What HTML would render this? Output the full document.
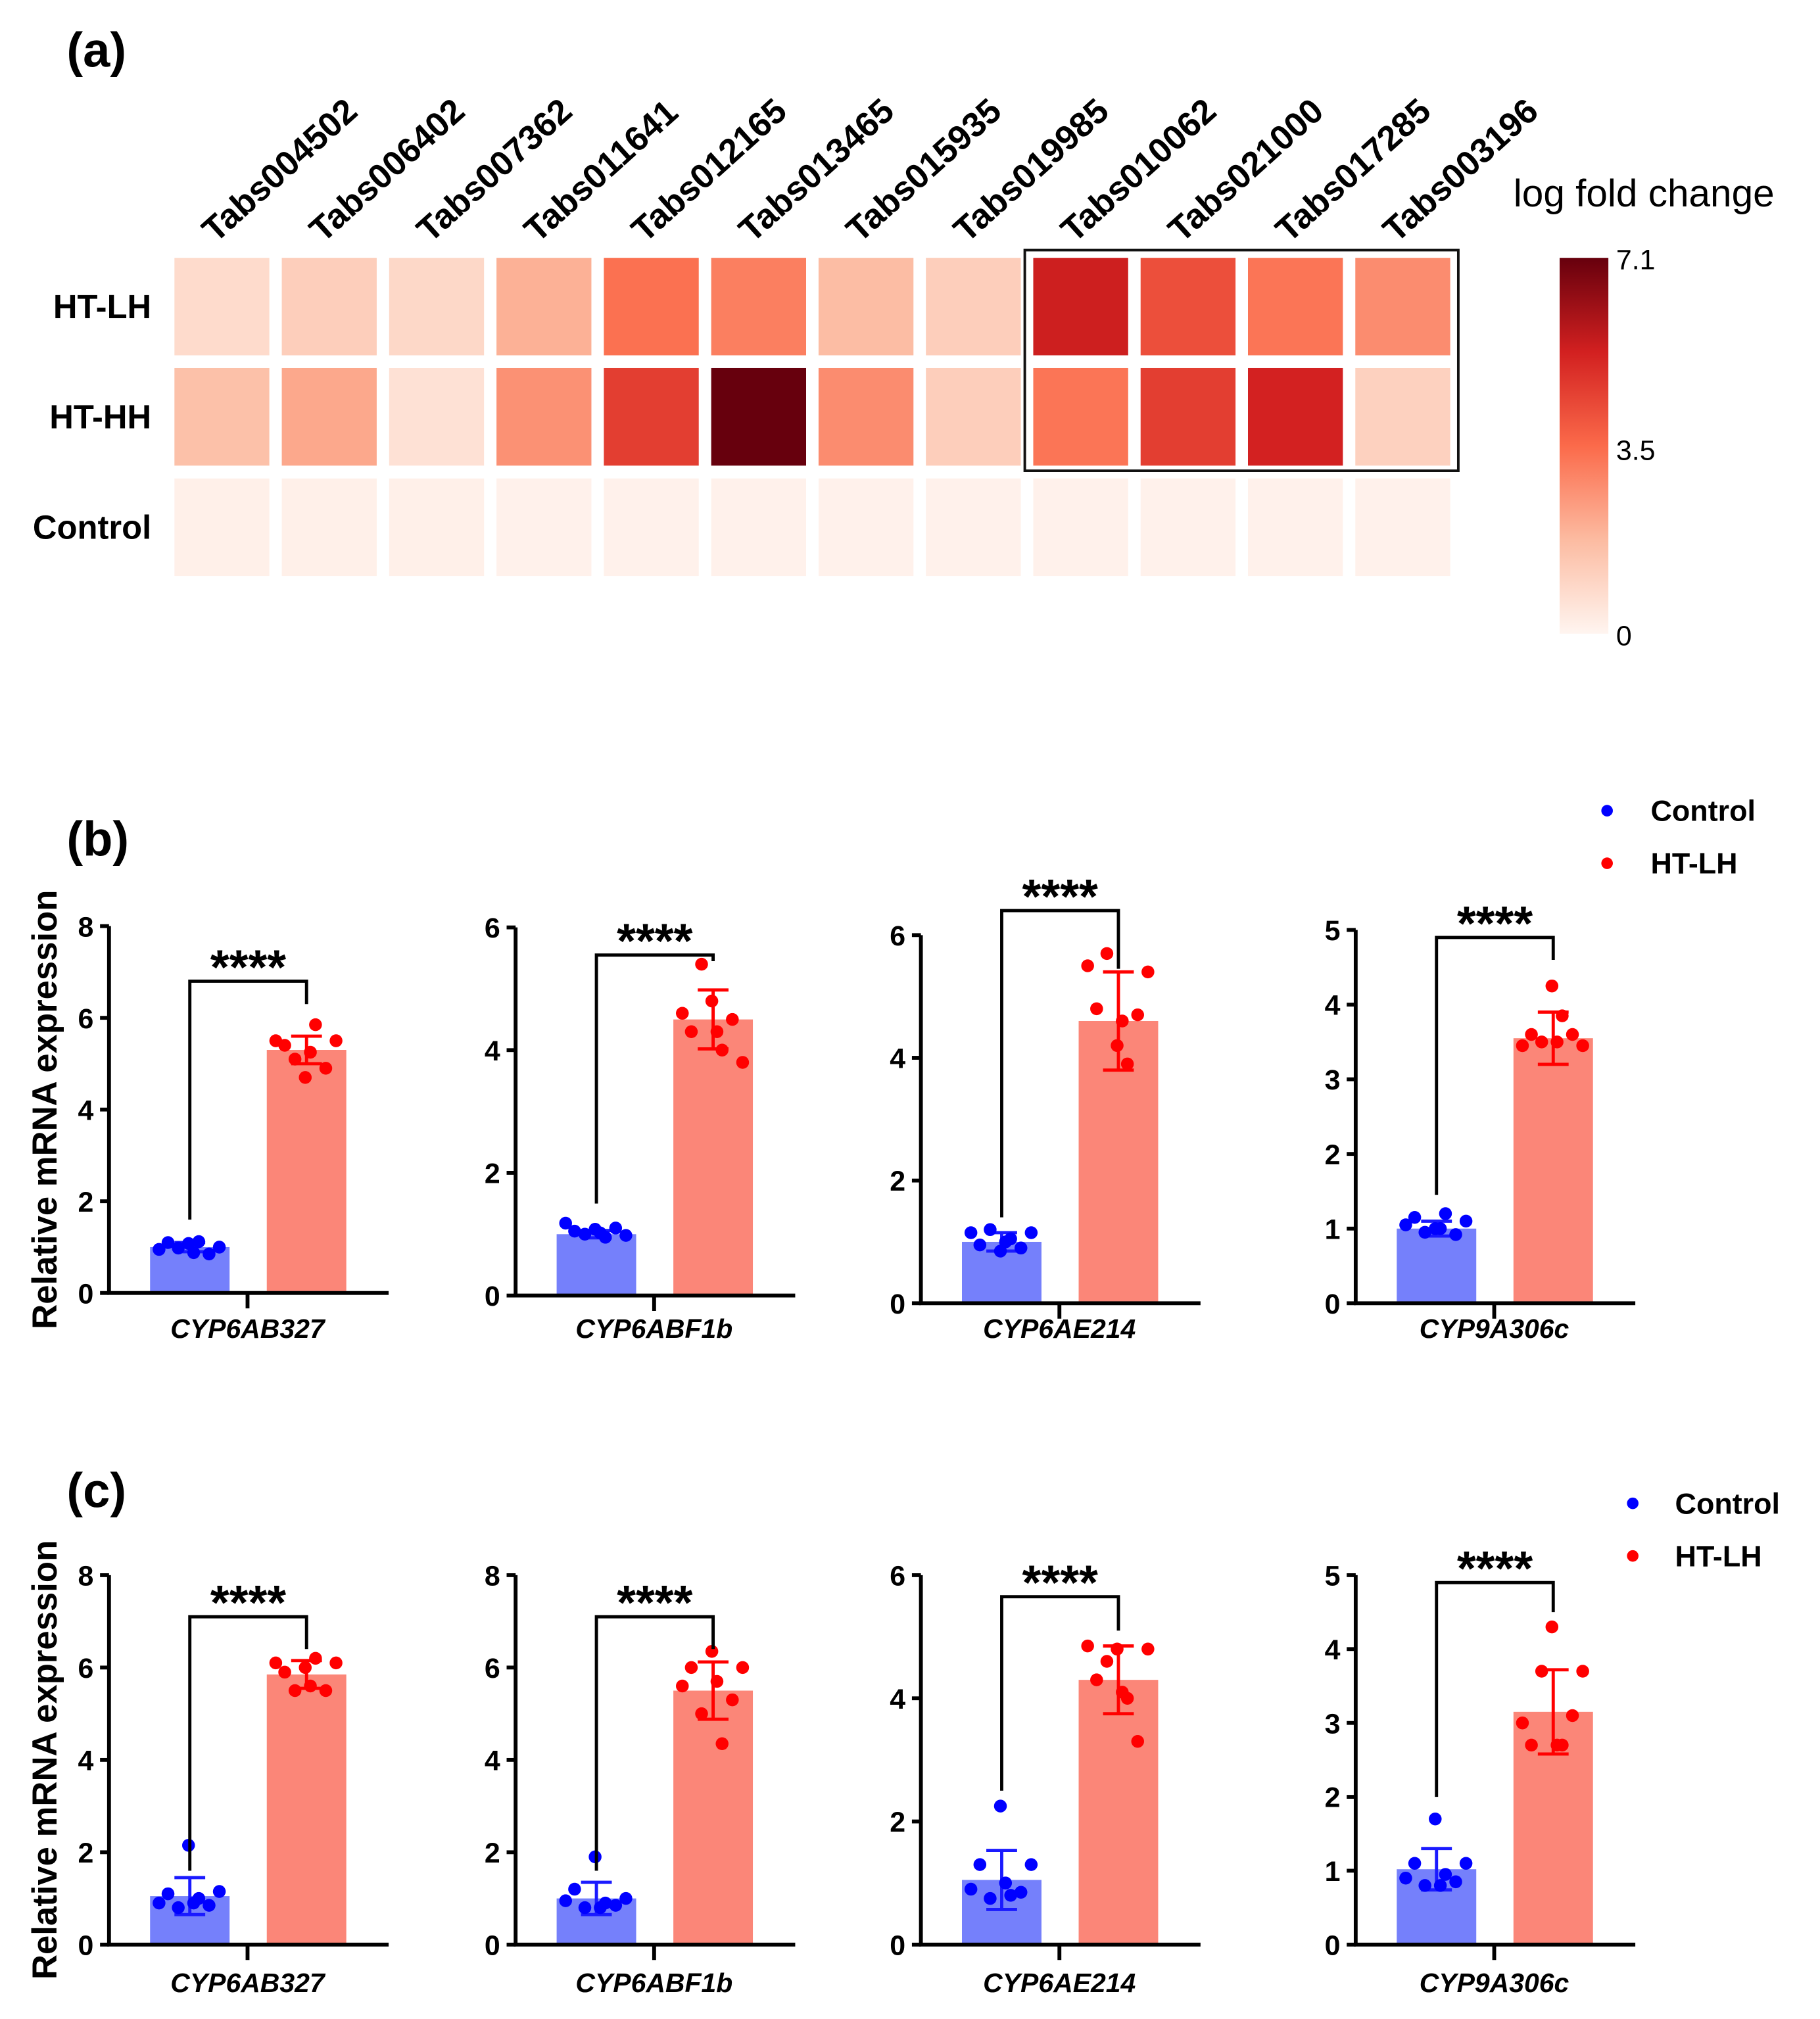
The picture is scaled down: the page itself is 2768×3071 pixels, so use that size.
<!DOCTYPE html>
<html><head><meta charset="utf-8"><style>
html,body{margin:0;padding:0;background:#fff}
svg{display:block}
text{font-family:"Liberation Sans",Arial,sans-serif}
</style></head><body>
<svg id="fig" width="2768" height="3071" viewBox="0 0 1419 1574" preserveAspectRatio="none">
<text x="52" y="52" font-size="38" font-weight="bold">(a)</text>
<text x="52" y="667" font-size="38" font-weight="bold">(b)</text>
<text x="52" y="1175" font-size="38" font-weight="bold">(c)</text>
<g id="heat"></g>
<g id="bars"></g>
</svg>
<script>
const genes=["Tabs004502","Tabs006402","Tabs007362","Tabs011641","Tabs012165","Tabs013465","Tabs015935","Tabs019985","Tabs010062","Tabs021000","Tabs017285","Tabs003196"];
const rowLabels=["HT-LH","HT-HH","Control"];
const valsLH=[0.8,1.2,0.9,2.0,3.4,3.1,1.7,1.2,5.4,4.2,3.3,2.8];
const valsHH=[1.6,2.2,0.6,2.7,4.6,7.1,2.8,1.2,3.3,4.6,5.3,1.1];
const valsCtrl=[0.15,0.15,0.15,0.12,0.12,0.12,0.12,0.12,0.12,0.12,0.12,0.12];
const scaleTicks=[0,3.5,7.1];

const geneNames=["CYP6AB327","CYP6ABF1b","CYP6AE214","CYP9A306c"];
const yMaxB=[8,6,6,5];
const yMaxC=[8,8,6,5];
const meanB_ctrl=[1.0,1.0,1.0,1.0], sdB_ctrl=[0.1,0.06,0.15,0.1];
const meanB_ht=[5.3,4.5,4.6,3.55], sdB_ht=[0.3,0.48,0.8,0.35];
const meanC_ctrl=[1.05,1.0,1.05,1.02], sdC_ctrl=[0.4,0.35,0.48,0.28];
const meanC_ht=[5.85,5.5,4.3,3.15], sdC_ht=[0.3,0.62,0.55,0.57];
const ptsB_ctrl=[[0.95,1.1,0.98,1.08,1.12,0.85,1.0,0.88],[1.18,1.05,1.0,1.08,0.95,1.1,0.98,1.02],[1.15,0.95,1.2,0.85,1.05,0.9,1.15,1.0],[1.05,1.15,0.95,1.0,1.2,0.92,1.1,1.0]];
const ptsB_ht=[[5.5,5.4,5.1,4.7,5.85,4.9,5.5,5.25],[4.6,4.3,5.4,4.8,4.0,4.5,3.8,4.3],[5.5,4.8,5.7,4.2,3.9,4.7,5.4,4.6],[3.45,3.6,3.5,4.25,3.85,3.6,3.45,3.5]];
const ptsC_ctrl=[[0.9,1.1,0.8,2.15,1.0,0.85,1.15,0.9],[0.95,1.2,0.8,1.9,0.9,0.85,1.0,0.8],[0.9,1.3,0.75,2.25,0.8,0.85,1.3,1.0],[0.9,1.1,0.8,1.7,0.95,0.85,1.1,0.8]];
const ptsC_ht=[[6.1,5.9,5.5,6.0,6.2,5.5,6.1,5.6],[5.6,6.0,5.0,6.35,4.35,5.3,6.0,5.7],[4.85,4.3,4.6,4.8,4.0,3.3,4.8,4.1],[3.0,2.7,3.7,4.3,2.7,3.1,3.7,2.7]];
const brB=[[6.8,1.6,6.3],[5.55,1.5,5.45],[6.4,1.4,5.45],[4.9,1.45,4.6]];
const brC=[[7.1,1.6,6.4],[7.1,1.6,6.4],[5.65,2.5,5.1],[4.9,2.0,4.5]];

const NS="http://www.w3.org/2000/svg";
function mk(parent,tag,attrs,txt){const e=document.createElementNS(NS,tag);for(const k in attrs)e.setAttribute(k,attrs[k]);if(txt!==undefined)e.textContent=txt;parent.appendChild(e);return e;}

const stops=[[0,[255,245,240]],[0.25,[252,187,161]],[0.5,[251,106,74]],[0.75,[210,32,32]],[1,[103,0,13]]];
function col(v){const t=Math.max(0,Math.min(1,v/7.1));for(let i=1;i<stops.length;i++){if(t<=stops[i][0]){const a=stops[i-1],b=stops[i];const f=(t-a[0])/(b[0]-a[0]);const c=a[1].map((x,j)=>Math.round(x+(b[1][j]-x)*f));return `rgb(${c})`;}}return "rgb(103,0,13)";}

const heat=document.getElementById('heat');
const cx0=136,pitch=83.7,cw=74,rowY=[201,287,373],rh=76;
const hx=i=>cx0+i*pitch;
const rows=[valsLH,valsHH,valsCtrl];
rows.forEach((vals,r)=>{
  const t=mk(heat,'text',{x:118,y:rowY[r]+rh/2+9,'font-size':26,'font-weight':'bold','text-anchor':'end'},rowLabels[r]);
  
  
  vals.forEach((v,i)=>{
    const c=mk(heat,'rect',{x:hx(i),y:rowY[r],width:cw,height:rh,fill:col(v)});
    
    
  });
});
genes.forEach((g,i)=>{
  const x=hx(i)+cw/2-5,y=190;
  const t=mk(heat,'text',{x:x,y:y,'font-size':27,'font-weight':'bold',transform:`rotate(-42 ${x} ${y})`},g);
  
  
});
const box=mk(heat,'rect',{x:799,y:195,width:338,height:172,fill:'none',stroke:'#111',"stroke-width":2});


const defs=mk(heat,'defs',{});
const lg=mk(defs,'linearGradient',{id:'cb',x1:0,y1:1,x2:0,y2:0});
stops.forEach(s=>mk(lg,'stop',{offset:s[0],'stop-color':`rgb(${s[1]})`}));
const cbTop=201,cbBot=494;
const cb=mk(heat,'rect',{x:1216,y:cbTop,width:38,height:cbBot-cbTop,fill:'url(#cb)'});


scaleTicks.forEach(v=>{
  const y=cbBot-(v/7.1)*(cbBot-cbTop);
  const t=mk(heat,'text',{x:1260,y:y+9,'font-size':22},String(v));
  
  
});
const ct=mk(heat,'text',{x:1180,y:161,'font-size':30},'log fold change');



const bars=document.getElementById('bars');
const axX=[85,402,718,1057];
const rowsCfg=[
 {id:'b',zero:[1008,1010,1016,1016],top:[722,723,729,725],yMax:yMaxB,mc:meanB_ctrl,sc:sdB_ctrl,mh:meanB_ht,sh:sdB_ht,pc:ptsB_ctrl,ph:ptsB_ht,br:brB,lab:1043,title:865,leg:[1253,632,1287]},
 {id:'c',zero:[1516,1516,1516,1516],top:[1228,1228,1228,1228],yMax:yMaxC,mc:meanC_ctrl,sc:sdC_ctrl,mh:meanC_ht,sh:sdC_ht,pc:ptsC_ctrl,ph:ptsC_ht,br:brC,lab:1553,title:1372,leg:[1273,1172,1306]}
];
const jit=[-24,-17,-9,-1,7,15,23,3];
rowsCfg.forEach(R=>{
  const yt=mk(bars,'text',{x:0,y:0,'font-size':27,'font-weight':'bold','text-anchor':'middle',transform:`translate(44 ${R.title}) rotate(-90)`},'Relative mRNA expression');
  
  
  for(let p=0;p<4;p++){
    const g=mk(bars,'g',{});
    
    
    const X=axX[p],z=R.zero[p],tp=R.top[p],ym=R.yMax[p];
    const Y=v=>z-(v/ym)*(z-tp);
    const bc=X+32+31, bh=X+123+31;
    const b1=mk(g,'rect',{x:bc-31,y:Y(R.mc[p]),width:62,height:z-Y(R.mc[p]),fill:'#7580fb'});
    
    
    const b2=mk(g,'rect',{x:bh-31,y:Y(R.mh[p]),width:62,height:z-Y(R.mh[p]),fill:'#fb8678'});
    
    
    [[bc,R.mc[p],R.sc[p],'#1a1aff'],[bh,R.mh[p],R.sh[p],'#f00']].forEach(([cx,m,s,c])=>{
      const e=mk(g,'path',{d:`M${cx} ${Y(m-s)}V${Y(m+s)}M${cx-12} ${Y(m+s)}H${cx+12}M${cx-12} ${Y(m-s)}H${cx+12}`,stroke:c,'stroke-width':2.5,fill:'none'});
      
      
    });
    R.pc[p].forEach((v,i)=>{const d=mk(g,'circle',{cx:bc+jit[i],cy:Y(v),r:5,fill:'#0000ff'});
      
      });
    R.ph[p].forEach((v,i)=>{const d=mk(g,'circle',{cx:bh+jit[i],cy:Y(v),r:5,fill:'#ff0000'});
      
      });
    const ax=mk(g,'path',{d:`M${X} ${tp}V${z}H${X+218}M${X+108} ${z}V${z+12}`,stroke:'#000','stroke-width':3,fill:'none'});
    
    
    const step=ym>6?2:(ym==6?2:1);
    for(let v=0;v<=ym;v+=step){
      const tk=mk(g,'line',{x1:X-7,x2:X,y1:Y(v),y2:Y(v),stroke:'#000','stroke-width':3});
      
      
      const tl=mk(g,'text',{x:X-12,y:Y(v)+8,'font-size':22,'font-weight':'bold','text-anchor':'end'},String(v));
      
      
    }
    const xl=mk(g,'text',{x:X+108,y:R.lab,'font-size':21,'font-weight':'bold','font-style':'italic','text-anchor':'middle'},geneNames[p]);
    
    
    const [bt,bl,brr]=R.br[p];
    const br=mk(g,'path',{d:`M${bc} ${Y(bl)}V${Y(bt)}H${bh}V${Y(brr)}`,stroke:'#000','stroke-width':2.5,fill:'none'});
    
    
    const st=mk(g,'text',{x:(bc+bh)/2,y:Y(bt)+2,'font-size':38,'font-weight':'bold','text-anchor':'middle'},'****');
    
    
  }
  const [lx,ly,tx]=R.leg;
  [['Control','#0000ff',0],['HT-LH','#ff0000',41]].forEach(([n,c,dy])=>{
    const d=mk(bars,'circle',{cx:lx,cy:ly+dy,r:4.5,fill:c});
    
    
    const t=mk(bars,'text',{x:tx,y:ly+dy+8,'font-size':23,'font-weight':'bold'},n);
    
    
  });
});
</script>
</body></html>
